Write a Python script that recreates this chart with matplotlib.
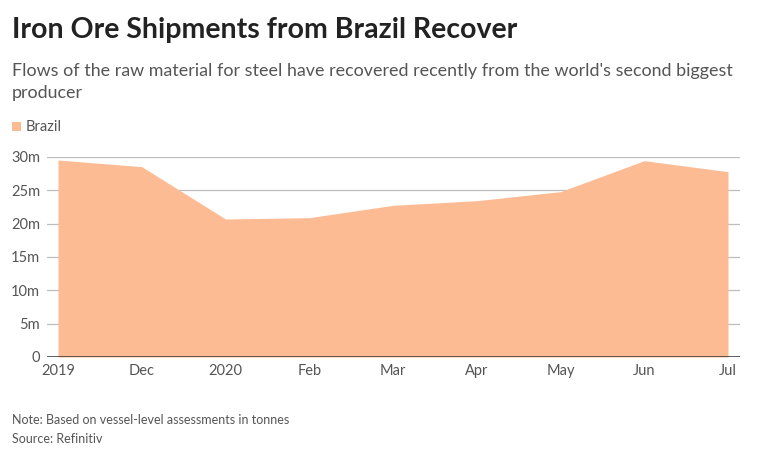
import matplotlib
matplotlib.use('Agg')
import matplotlib.pyplot as plt
from matplotlib.patches import Rectangle

# data (million tonnes)
months = ['2019', 'Dec', '2020', 'Feb', 'Mar', 'Apr', 'May', 'Jun', 'Jul']
brazil = [29.55, 28.55, 20.7, 20.9, 22.75, 23.45, 24.8, 29.45, 27.8]
yticks = [0, 5, 10, 15, 20, 25, 30]
ylabels = ['0', '5m', '10m', '15m', '20m', '25m', '30m']

plt.rcParams['font.family'] = ['Lato', 'DejaVu Sans']

W, H = 759, 455
fig = plt.figure(figsize=(W / 100, H / 100), dpi=100)

# axes from the left end of the gridlines to their right end
x0, x1 = 47, 740
ytop, ybot = 157, 357
ax = fig.add_axes([x0 / W, 1 - ybot / H, (x1 - x0) / W, (ybot - ytop) / H])
step = (728 - 58) / 8
ax.set_xlim(-(58 - x0) / step, 8 + (x1 - 728) / step)
ax.set_ylim(0, 30)

xs = list(range(len(months)))
ax.fill_between(xs, 0, brazil, color='#fdbb94', lw=0, zorder=2)

ax.set_yticks(yticks)
ax.set_yticklabels(ylabels)
ax.set_xticks(xs)
ax.set_xticklabels(months)
ax.tick_params(axis='y', length=0, pad=5, labelsize=10.5, labelcolor='#555555')
ax.tick_params(axis='x', length=0, pad=5, labelsize=10.5, labelcolor='#555555')
for y in yticks[1:]:
    ax.axhline(y, color='#bdbdbd', lw=0.9, zorder=1)
ax.axhline(0, color='#333333', lw=1.1, zorder=3)
for s in ax.spines.values():
    s.set_visible(False)

fig.text(12 / W, 1 - 30 / H, 'Iron Ore Shipments from Brazil Recover', fontsize=20.5,
         fontweight='bold', color='#222222', va='center')
fig.text(12 / W, 1 - 71 / H, "Flows of the raw material for steel have recovered recently from the world's second biggest",
         fontsize=12.9, color='#555555', va='center')
fig.text(12 / W, 1 - 93 / H, 'producer', fontsize=12.9, color='#555555', va='center')

fig.patches.append(Rectangle((12 / W, 1 - 131 / H), 9 / W, 9 / H, transform=fig.transFigure,
                             facecolor='#fdbb94', edgecolor='none'))
fig.text(26 / W, 1 - 127 / H, 'Brazil', fontsize=10.5, color='#555555', va='center')

fig.text(12 / W, 1 - 420 / H, 'Note: Based on vessel-level assessments in tonnes', fontsize=9,
         color='#555555', va='center')
fig.text(12 / W, 1 - 439 / H, 'Source: Refinitiv', fontsize=9, color='#555555', va='center')

plt.savefig('out.png', dpi=100)
